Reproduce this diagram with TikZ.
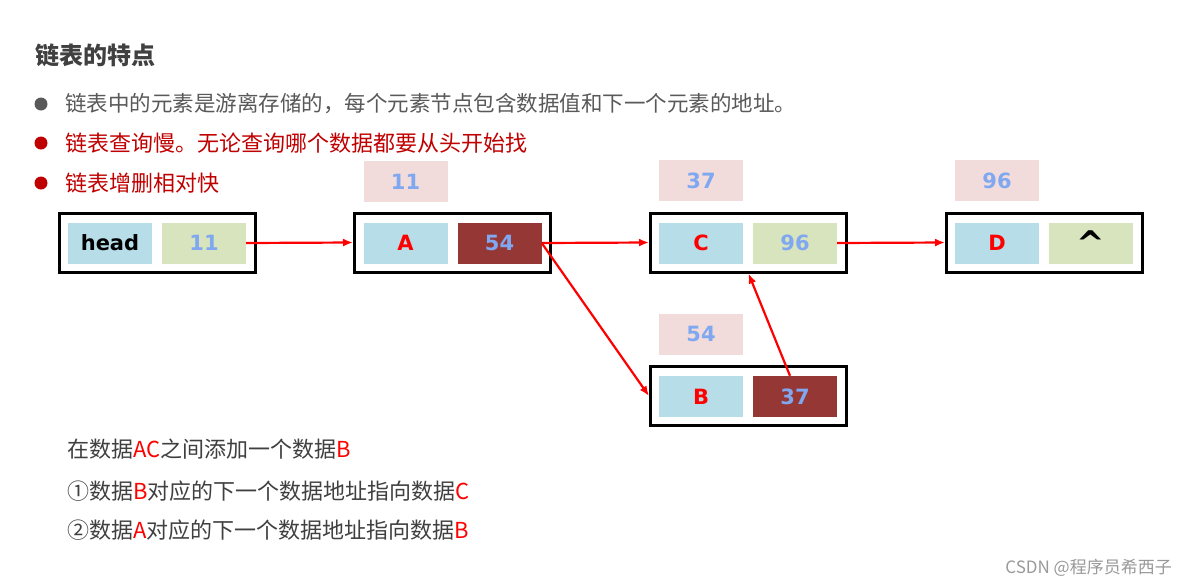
\documentclass[tikz,border=0pt]{standalone}
\usepackage{fontspec}
\usepackage{xcolor}
\usetikzlibrary{arrows.meta,positioning}
\setmainfont{DejaVu Sans}
\newfontfamily\cjk{Noto Sans CJK SC}
\definecolor{keycolor}{HTML}{B7DDE8}
\definecolor{valcolor}{HTML}{D7E4BD}
\definecolor{ptrcolor}{HTML}{953735}
\definecolor{addrcolor}{HTML}{F2DCDB}
\definecolor{numcolor}{HTML}{80A8F0}
\definecolor{titlegray}{HTML}{404040}
\definecolor{notegray}{HTML}{595959}
\definecolor{darkred}{HTML}{C00000}

\begin{document}
\begin{tikzpicture}[x=1pt, y=-1pt, every node/.style={inner sep=0pt},
  box/.style={draw=black, line width=3pt, minimum width=196pt, minimum height=59pt},
  cell/.style={minimum width=84pt, minimum height=41pt, font=\bfseries\fontsize{21}{21}\selectfont},
  keycell/.style={cell, fill=keycolor, text=red},
  valcell/.style={cell, fill=valcolor, text=numcolor},
  ptrcell/.style={cell, fill=ptrcolor, text=numcolor},
  addrcell/.style={cell, fill=addrcolor, text=numcolor},
  link/.style={draw=red, line width=2.2pt, -{Latex[length=10pt,width=8pt]}},
  dot/.style={circle, minimum size=13pt}]
  \useasboundingbox[fill=white] (0,0) rectangle (1188,587);
  % Title and notes
  \node[anchor=west, text=titlegray, font=\cjk\bfseries\fontsize{24}{24}\selectfont] (title) at (35,55) {链表的特点};
  \node[dot, fill=notegray] (bul1) at (41,104) {};
  \node[dot, fill=darkred]  (bul2) at (41,143) {};
  \node[dot, fill=darkred]  (bul3) at (41,183) {};
  \node[anchor=west, text=notegray, font=\cjk\fontsize{21.5}{21.5}\selectfont] (note1) at (65,104) {链表中的元素是游离存储的，每个元素节点包含数据值和下一个元素的地址。};
  \node[anchor=west, text=darkred, font=\cjk\fontsize{22}{22}\selectfont] (note2) at (65,143) {链表查询慢。无论查询哪个数据都要从头开始找};
  \node[anchor=west, text=darkred, font=\cjk\fontsize{22}{22}\selectfont] (note3) at (65,183) {链表增删相对快};
  % Nodes
  \node[box] (hd) at (157.5,242.5) {};
  \node[keycell, text=black] (hdkey) at (110,243) {head};
  \node[valcell] (hdval) at (204,243) {11};
  \node[box] (nA) at (452.5,242.5) {};
  \node[keycell] (Akey) at (405.5,243) {A};
  \node[ptrcell] (Aval) at (499.5,243) {54};
  \node[addrcell] (Aaddr) at (405.5,181.5) {11};
  \node[box] (nC) at (748.5,242.5) {};
  \node[keycell] (Ckey) at (701,243) {C};
  \node[valcell] (Cval) at (795,243) {96};
  \node[addrcell] (Caddr) at (701,180.5) {37};
  \node[box] (nD) at (1044.5,242.5) {};
  \node[keycell] (Dkey) at (997,243) {D};
  \node[valcell, text=black, font=\bfseries\fontsize{34}{34}\selectfont] (Dval) at (1091,243) {\raisebox{-4pt}{\textasciicircum}};
  \node[addrcell] (Daddr) at (997,180.5) {96};
  \node[box] (nB) at (748.5,396) {};
  \node[keycell] (Bkey) at (701,396.5) {B};
  \node[ptrcell] (Bval) at (795,396.5) {37};
  \node[addrcell] (Baddr) at (701,334) {54};
  % Links
  \draw[link] (hdval.east) -- (nA.west);
  \draw[link] (Aval.east) -- (nC.west);
  \draw[link] (Aval.east) -- (nB.west);
  \draw[link] ([xshift=-5pt]Bval.north) -- (nC.south);
  \draw[link] (Cval.east) -- (nD.west);
  % Steps
  \node[anchor=west, text=titlegray, font=\cjk\fontsize{22}{22}\selectfont] (step0) at (67,449) {在数据\textcolor{red}{AC}之间添加一个数据\textcolor{red}{B}};
  \node[anchor=west, text=titlegray, font=\cjk\fontsize{22}{22}\selectfont] (step1) at (67,491) {①数据\textcolor{red}{B}对应的下一个数据地址指向数据\textcolor{red}{C}};
  \node[anchor=west, text=titlegray, font=\cjk\fontsize{22}{22}\selectfont] (step2) at (67,530) {②数据\textcolor{red}{A}对应的下一个数据地址指向数据\textcolor{red}{B}};
  \node[anchor=east, text=gray!80, font=\cjk\fontsize{17}{17}\selectfont] (mark) at (1172,568) {CSDN @程序员希西子};
\end{tikzpicture}
\end{document}
